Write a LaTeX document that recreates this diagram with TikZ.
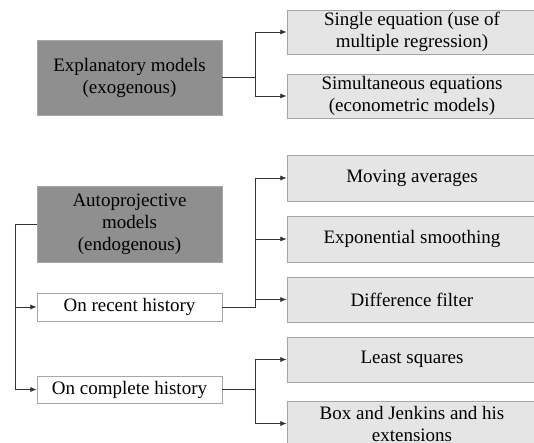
\documentclass[tikz,border=0pt]{standalone}
\usepackage{fontspec}
\setmainfont{Liberation Serif}
\usetikzlibrary{arrows.meta, positioning, calc}

\begin{document}
\begin{tikzpicture}[x=1pt, y=-1pt, font=\rmfamily\fontsize{19}{22}\selectfont,
  base/.style={draw=black!35, line width=0.8pt, align=center, inner sep=1pt},
  mdl/.style={base, fill=black!44, minimum width=185pt},
  sub/.style={base, fill=white, minimum width=185pt},
  tech/.style={base, fill=black!10, minimum width=250pt},
  a/.style={-{Latex[length=2.2mm, width=1.8mm]}, line width=0.8pt, draw=black!80}]
  \useasboundingbox (0,0) rectangle (534,443);
  \clip (0,0) rectangle (534,443);
  % explanatory branch
  \node[mdl, minimum height=75pt] (expl) at (129.5,77.5) {Explanatory models\\(exogenous)};
  \node[tech, minimum height=44pt] (single) at (412,32) {Single equation (use of\\multiple regression)};
  \node[tech, minimum height=44pt] (simul)  at (412,96) {Simultaneous equations\\(econometric models)};
  \draw[a] (expl.east) -- ++(33,0) |- (single.west);
  \draw[a] (expl.east) -- ++(33,0) |- (simul.west);
  % autoprojective branch
  \node[mdl, minimum height=76pt] (auto) at (129.5,224) {Autoprojective\\models\\(endogenous)};
  \node[sub, minimum height=28pt] (recent)   at (129.5,307)   {On recent history};
  \node[sub, minimum height=27pt] (complete) at (129.5,389.5) {On complete history};
  \draw[a] (auto.west) -- ++(-21,0) |- (recent.west);
  \draw[a] (auto.west) -- ++(-21,0) |- (complete.west);
  \node[tech, minimum height=46pt] (mov)  at (412,178)   {Moving averages};
  \node[tech, minimum height=46pt] (expo) at (412,239)   {Exponential smoothing};
  \node[tech, minimum height=45pt] (diff) at (412,299.5) {Difference filter};
  \draw[a] (recent.east) -- ++(33,0) |- (mov.west);
  \draw[a] (recent.east) -- ++(33,0) |- (expo.west);
  \draw[a] (recent.east) -- ++(33,0) |- (diff.west);
  \node[tech, minimum height=45pt] (least) at (412,359.5) {Least squares};
  \node[tech, minimum height=45pt] (boxj)  at (412,423.5) {Box and Jenkins and his\\extensions};
  \draw[a] (complete.east) -- ++(33,0) |- (least.west);
  \draw[a] (complete.east) -- ++(33,0) |- (boxj.west);
\end{tikzpicture}
\end{document}
